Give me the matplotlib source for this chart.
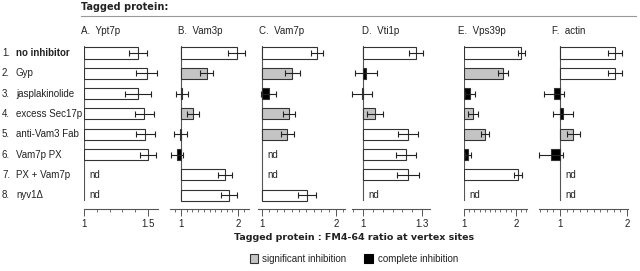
import matplotlib
matplotlib.use("Agg")
import matplotlib.pyplot as plt
from matplotlib.patches import Rectangle
from matplotlib.lines import Line2D
import numpy as np

plt.rcParams['font.family'] = ['Liberation Sans', 'DejaVu Sans']

W, H = 640, 271
fig = plt.figure(figsize=(6.4, 2.71), dpi=100)

row_labels = ["no inhibitor", "Gyp", "jasplakinolide", "excess Sec17p",
              "anti-Vam3 Fab", "Vam7p PX", "PX + Vam7p", "nyv1\u0394"]
panel_titles = ["A.  Ypt7p", "B.  Vam3p", "C.  Vam7p", "D.  Vti1p", "E.  Vps39p", "F.  actin"]

A_vals = [1.42, 1.49, 1.42, 1.47, 1.48, 1.50, None, None]
A_errs = [0.07, 0.08, 0.10, 0.075, 0.075, 0.06, None, None]
A_fill = ['w', 'w', 'w', 'w', 'w', 'w', None, None]

B_vals = [1.98, 1.45, 1.02, 1.21, 0.99, 0.93, 1.77, 1.84]
B_errs = [0.15, 0.12, 0.10, 0.10, 0.11, 0.11, 0.12, 0.14]
B_fill = ['w', 'g', 'k', 'g', 'w', 'k', 'w', 'w']

C_vals = [1.74, 1.41, 1.09, 1.36, 1.34, None, None, 1.61]
C_errs = [0.08, 0.10, 0.10, 0.08, 0.09, None, None, 0.12]
C_fill = ['w', 'g', 'k', 'g', 'g', None, None, 'w']

D_vals = [1.27, 1.015, 0.995, 1.06, 1.23, 1.22, 1.23, None]
D_errs = [0.035, 0.055, 0.05, 0.04, 0.05, 0.05, 0.055, None]
D_fill = ['w', 'k', 'w', 'g', 'w', 'w', 'w', None]

E_vals = [2.10, 1.75, 1.115, 1.17, 1.40, 1.07, 2.04, None]
E_errs = [0.07, 0.09, 0.10, 0.10, 0.08, 0.06, 0.07, None]
E_fill = ['w', 'g', 'k', 'g', 'g', 'k', 'w', None]

F_vals = [1.82, 1.82, 0.91, 1.05, 1.20, 0.86, None, None]
F_errs = [0.10, 0.11, 0.15, 0.15, 0.10, 0.18, None, None]
F_fill = ['w', 'w', 'k', 'k', 'g', 'k', None, None]

tick_vals = [[1, 1.5], [1, 2], [1, 2], [1, 1.3], [1, 2], [1, 2]]
tick_text = [["1", "1.5"], ["1", "2"], ["1", "2"], ["1", "1.3"], ["1", "2"], ["1", "2"]]

xlabel = "Tagged protein : FM4-64 ratio at vertex sites"
legend_labels = ["significant inhibition", "complete inhibition"]

# layout: (pixel of x=1, pixels per unit, xlo, xhi, minor step, title px)
layout = [
    (84, 128, 1.0, 1.58, 0.1, 81),
    (181, 57, 0.81, 2.19, 0.1, 178),
    (262, 74, 0.95, 2.12, 0.1, 259),
    (363, 197, 0.945, 1.34, 0.05, 362),
    (464, 52, 1.0, 2.21, 0.1, 458),
    (560, 67, 0.69, 2.01, 0.1, 552),
]

vals = [A_vals, B_vals, C_vals, D_vals, E_vals, F_vals]
errs = [A_errs, B_errs, C_errs, D_errs, E_errs, F_errs]
fills = [A_fill, B_fill, C_fill, D_fill, E_fill, F_fill]
colmap = {'w': 'white', 'g': '#c4c4c4', 'k': 'black'}

row0, rowstep = 53, 20.3
top_px, bot_px = 40, 209
y_top = (top_px - row0) / rowstep
y_bot = (bot_px - row0) / rowstep

txtcol = '#222222'
axcol = '#555555'

for p in range(6):
    px1, scale, xlo, xhi, mstep, tpx = layout[p]
    left = px1 + (xlo - 1) * scale
    width = (xhi - xlo) * scale
    ax = fig.add_axes([left / W, 1 - bot_px / H, width / W, (bot_px - top_px) / H])
    ax.set_xlim(xlo, xhi)
    ax.set_ylim(y_bot, y_top)
    for s in ['top', 'right', 'left']:
        ax.spines[s].set_visible(False)
    ax.spines['bottom'].set_color(axcol)
    ax.spines['bottom'].set_linewidth(0.8)
    ax.set_yticks([])
    ax.set_xticks(tick_vals[p])
    ax.set_xticklabels(tick_text[p], fontsize=7, color=txtcol)
    start = np.ceil(xlo / mstep - 1e-6) * mstep
    ax.set_xticks(np.arange(start, xhi + 1e-9, mstep), minor=True)
    ax.tick_params(axis='x', which='major', length=5, width=0.7, color=axcol, pad=2)
    ax.tick_params(axis='x', which='minor', length=2.5, width=0.6, color=axcol)
    ax.patch.set_alpha(0)
    ax.plot([1, 1], [-0.35, 7.25], color=axcol, lw=0.8, zorder=1)
    for i in range(8):
        v = vals[p][i]
        if v is None:
            ax.annotate("nd", (1, i), xytext=(4, 0), textcoords='offset points',
                        fontsize=7, color=txtcol, va='center', ha='left')
            continue
        ax.barh(i, v - 1, left=1, height=0.55, color=colmap[fills[p][i]],
                edgecolor='#333333', linewidth=0.8, zorder=2)
        ax.errorbar(v, i, xerr=errs[p][i], fmt='none', ecolor='#222222',
                    elinewidth=0.8, capsize=2.5, capthick=0.8, zorder=3, clip_on=False)
    fig.text(tpx / W, 1 - 31 / H, panel_titles[p], fontsize=7, color=txtcol,
             va='center', ha='left')

for i, lab in enumerate(row_labels):
    y = 1 - (row0 + rowstep * i) / H
    fig.text(2 / W, y, f"{i + 1}.", fontsize=7, color=txtcol, va='center', ha='left')
    fig.text(16 / W, y, lab, fontsize=7, color=txtcol, va='center', ha='left',
             fontweight='bold' if i == 0 else 'normal')

fig.text(81 / W, 1 - 7 / H, "Tagged protein:", fontsize=7, fontweight='bold',
         family='DejaVu Sans', color=txtcol, va='center', ha='left')
fig.add_artist(Line2D([81 / W, 636 / W], [1 - 16 / H, 1 - 16 / H], color='#999999', lw=0.8))

fig.text(354 / W, 1 - 237 / H, xlabel, fontsize=6.8, fontweight='bold',
         family='DejaVu Sans', color=txtcol, va='center', ha='center')

# legend
fig.add_artist(Rectangle((250 / W, 1 - 263 / H), 8 / W, 9 / H, facecolor='#c4c4c4',
                         edgecolor='#333333', lw=0.8, transform=fig.transFigure))
fig.text(262 / W, 1 - 259 / H, legend_labels[0], fontsize=7, color=txtcol, va='center', ha='left')
fig.add_artist(Rectangle((364 / W, 1 - 263 / H), 9 / W, 9 / H, facecolor='black',
                         edgecolor='black', lw=0.8, transform=fig.transFigure))
fig.text(378 / W, 1 - 259 / H, legend_labels[1], fontsize=7, color=txtcol, va='center', ha='left')

fig.savefig("out.png", dpi=100)
